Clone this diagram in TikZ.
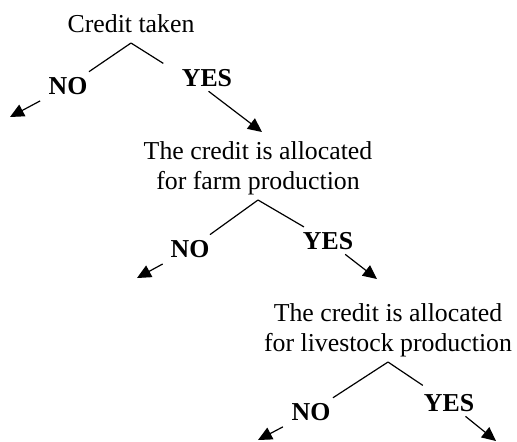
\documentclass[tikz,border=0pt]{standalone}
\usepackage{fontspec}
\setmainfont{Liberation Serif}
\usetikzlibrary{positioning,arrows.meta}

\begin{document}
\begin{tikzpicture}[x=0.5pt,y=-0.5pt,
	question/.style={align=center,inner sep=0pt,text depth=0pt,anchor=south,font=\fontsize{12.9}{15}\selectfont},
	answer/.style={inner sep=1.5pt,font=\fontsize{12.9}{15}\selectfont\bfseries},
	branch/.style={line width=0.6pt,shorten >=2pt},
	choice/.style={line width=0.6pt,-{Triangle[length=7pt,width=6.5pt]},shorten <=1pt}]
	\useasboundingbox (0,0) rectangle (517,441);
	% questions
	\node[question] (credit) at (131,33) {Credit taken};
	\node[question] (farm) at (258,190) {The credit is allocated\\for farm production};
	\node[question] (stock) at (388,352) {The credit is allocated\\for livestock production};
	\coordinate[below=5pt of credit] (a1);
	\coordinate[below=5pt of farm] (a2);
	\coordinate[below=5pt of stock] (a3);
	% answers
	\node[answer] (no1) at (68,86) {NO};
	\node[answer] (yes1) at (207,78) {YES};
	\node[answer] (no2) at (190,249) {NO};
	\node[answer] (yes2) at (328,241) {YES};
	\node[answer] (no3) at (311,412) {NO};
	\node[answer] (yes3) at (449,403) {YES};
	\coordinate (n1) at (10,117);
	\coordinate (y1) at (262,132);
	\coordinate (n2) at (137,278);
	\coordinate (y2) at (377,279);
	\coordinate (n3) at (258,440);
	\coordinate (y3) at (496,441);
	% branches
	\draw[branch] (a1) -- (no1);
	\draw[branch,shorten >=9pt] (a1) -- (yes1.170);
	\draw[branch] (a2) -- (no2);
	\draw[branch] (a2) -- (yes2);
	\draw[branch] (a3) -- (no3);
	\draw[branch,shorten >=5pt] (a3) -- (yes3);
	% arrows
	\draw[choice,shorten <=3pt] (no1) -- (n1);
	\draw[choice] (yes1.south) -- (y1);
	\draw[choice,shorten <=3pt] (no2) -- (n2);
	\draw[choice] (yes2) -- (y2);
	\draw[choice,shorten <=3pt] (no3) -- (n3);
	\draw[choice] (yes3) -- (y3);
\end{tikzpicture}
\end{document}
